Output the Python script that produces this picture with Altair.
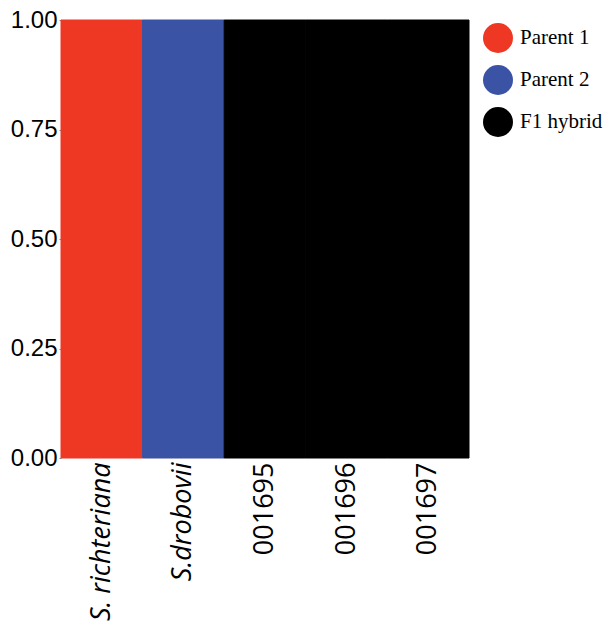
import altair as alt
import pandas as pd

samples = ["S. richteriana", "S.drobovii", "001695", "001696", "001697"]
proportion = [1.0, 1.0, 1.0, 1.0, 1.0]
groups = ["Parent 1", "Parent 2", "F1 hybrid", "F1 hybrid", "F1 hybrid"]
group_order = ["Parent 1", "Parent 2", "F1 hybrid"]
group_colors = ["#EE3824", "#3A53A4", "#000000"]

df = pd.DataFrame({"sample": samples, "proportion": proportion, "group": groups})

color_scale = alt.Scale(domain=group_order, range=group_colors)

chart = alt.Chart(df).mark_bar(strokeWidth=1).encode(
    x=alt.X("sample:N", sort=samples, title=None,
            scale=alt.Scale(paddingInner=0, paddingOuter=0),
            axis=alt.Axis(labelAngle=-90, labelAlign="right", labelBaseline="middle",
                          labelFont="Open Sans", labelFontSize=27, labelColor="black",
                          labelFontStyle=alt.ExprRef(expr="indexof(['S. richteriana','S.drobovii'], datum.value) >= 0 ? 'italic' : 'normal'"),
                          domain=False, ticks=False, labelPadding=4)),
    y=alt.Y("proportion:Q", title=None, scale=alt.Scale(domain=[0, 1], nice=False),
            axis=alt.Axis(values=[0, 0.25, 0.5, 0.75, 1.0], format=".2f",
                          labelFont="Liberation Sans", labelFontSize=24, labelColor="black",
                          domain=False, grid=False, tickSize=2, tickColor="#888888",
                          labelPadding=2)),
    color=alt.Color("group:N", sort=group_order, scale=color_scale,
                    legend=alt.Legend(title=None, symbolType="circle", symbolSize=900,
                                      symbolStrokeWidth=0, symbolOpacity=1,
                                      labelFont="Liberation Serif", labelFontSize=21,
                                      labelColor="black", rowPadding=12,
                                      orient="none", legendX=422, legendY=3,
                                      labelOffset=7)),
    stroke=alt.Stroke("group:N", sort=group_order, scale=color_scale, legend=None),
).properties(
    width=408, height=438,
    autosize=alt.AutoSizeParams(type="none"),
    padding={"left": 53, "top": 12, "right": 139, "bottom": 166},
).configure_view(stroke=None)

chart.save("out.html", embed_options={"renderer": "svg", "actions": False})
